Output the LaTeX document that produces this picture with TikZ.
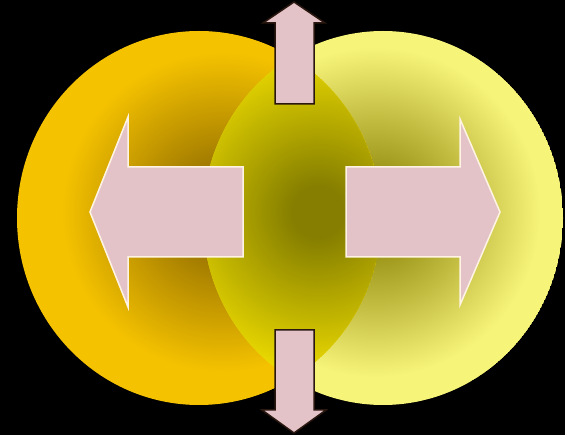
\documentclass[tikz,border=0pt]{standalone}
\definecolor{leftgold}{HTML}{F5C200}
\definecolor{leftshade}{HTML}{957000}
\definecolor{rightpale}{HTML}{F7F47A}
\definecolor{rightshade}{HTML}{968F12}
\definecolor{lensyellow}{HTML}{EAD900}
\definecolor{lensshade}{HTML}{857E00}
\definecolor{arrowpink}{HTML}{E3C3C8}
\definecolor{arrowrim}{HTML}{FFF4E4}
\definecolor{arrowdark}{HTML}{2A1810}
\pgfdeclareradialshading{leftglow}{\pgfpointorigin}{color(0bp)=(leftshade); color(5bp)=(leftshade); color(25bp)=(leftgold); color(50bp)=(leftgold)}
\pgfdeclareradialshading{rightglow}{\pgfpointorigin}{color(0bp)=(rightshade); color(5bp)=(rightshade); color(25bp)=(rightpale); color(50bp)=(rightpale)}
\pgfdeclareradialshading{lensglow}{\pgfpointorigin}{color(0bp)=(lensshade); color(4bp)=(lensshade); color(25bp)=(lensyellow); color(50bp)=(lensyellow)}
\tikzset{
  pinkarrow/.style={fill=arrowpink, draw=arrowrim, line width=1.5pt},
  darkarrow/.style={fill=arrowpink, draw=arrowdark, line width=1.5pt}
}
\begin{document}
\begin{tikzpicture}[x=1pt,y=-1pt,line join=miter]
	% Nền đen
	\fill[black] (0,0) rectangle (565,435);
	
	% Hình tròn bên phải
	\begin{scope}
		\clip (383,218) ellipse [x radius=180pt, y radius=187pt];
		\fill[rightpale] (383,218) ellipse [x radius=180pt, y radius=187pt];
		\shade[shading=rightglow] (375,212) circle [radius=165pt];
	\end{scope}
	
	% Hình tròn bên trái
	\begin{scope}
		\clip (199,218) ellipse [x radius=182pt, y radius=187pt];
		\fill[leftgold] (199,218) ellipse [x radius=182pt, y radius=187pt];
		\shade[shading=leftglow] (222,212) circle [radius=160pt];
	\end{scope}
	
	% Phần giao của hai hình tròn
	\begin{scope}
		\clip (199,218) ellipse [x radius=182pt, y radius=187pt];
		\clip (383,218) ellipse [x radius=180pt, y radius=187pt];
		\fill[lensyellow] (199,218) ellipse [x radius=182pt, y radius=187pt];
		\shade[shading=lensglow] (318,212) circle [radius=160pt];
	\end{scope}
	
	% Mũi tên trái và phải
	\draw[pinkarrow] (243,167) -- (128,167) -- (128,117) -- (90,212) -- (128,307) -- (128,257) -- (243,257) -- cycle;
	\draw[pinkarrow] (346,167) -- (460,167) -- (460,119) -- (500,212) -- (460,305) -- (460,257) -- (346,257) -- cycle;
	
	% Mũi tên lên và xuống
	\draw[darkarrow] (275,104) -- (275,23) -- (263,23) -- (294,2) -- (325,23) -- (314,23) -- (314,104) -- cycle;
	\draw[darkarrow] (275,330) -- (275,410) -- (262,410) -- (294,433) -- (326,410) -- (314,410) -- (314,330) -- cycle;
\end{tikzpicture}
\end{document}
